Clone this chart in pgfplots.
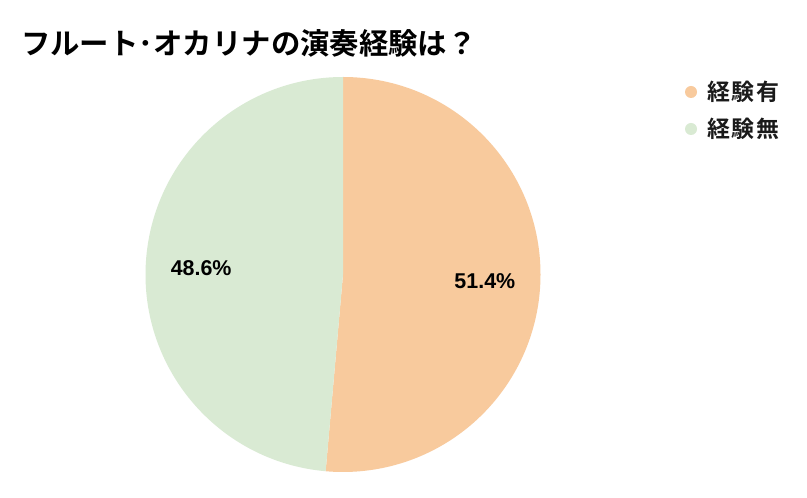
\documentclass[border=0pt]{standalone}
\usepackage{pgfplots}
\usepackage{pgfplotstable}
\pgfplotsset{compat=1.18}
\usetikzlibrary{calc}
\usepackage{fontspec}
\setmainfont{Liberation Sans}
\newfontfamily\jpfont{Noto Sans CJK JP}[BoldFont={* Bold}]
\newfontfamily\jplegend{Noto Sans CJK JP}[BoldFont={* Bold}, LetterSpace=8]

\definecolor{sliceA}{HTML}{F8CA9D}
\definecolor{sliceB}{HTML}{D9EAD3}
\definecolor{inkdark}{HTML}{1A1A1A}

% share of respondents (percent)
\pgfplotstableread{
label share
A 51.4
B 48.6
}\piedata

\begin{document}
\begin{tikzpicture}
\pgfplotstablegetelem{0}{share}\of\piedata \let\shareA\pgfplotsretval
\pgfplotstablegetelem{1}{share}\of\piedata \let\shareB\pgfplotsretval
\pgfmathsetmacro{\endA}{90-3.6*\shareA}
\pgfmathsetmacro{\endB}{\endA-3.6*\shareB}
\pgfmathsetmacro{\midA}{(90+\endA)/2}
\pgfmathsetmacro{\midB}{(\endA+\endB)/2}
\begin{axis}[
  scale only axis, width=807bp, height=498bp,
  xmin=0, xmax=807, ymin=0, ymax=498,
  hide axis, clip=false,
]
\fill[white] (axis cs:0,0) rectangle (axis cs:807,498);
% pie centre (343,223.5), radius 197.5
\fill[sliceA] (axis cs:343,223.5) -- ++(90:197.5bp) arc[start angle=90, end angle=\endA, radius=197.5bp] -- cycle;
\fill[sliceB] (axis cs:343,223.5) -- ++(\endA:197.5bp) arc[start angle=\endA, end angle=\endB, radius=197.5bp] -- cycle;
\node[font=\fontsize{21.5}{24}\selectfont\bfseries, text=black] at ($(axis cs:343,223.5)+(\midA:142bp)$) {\shareA\%};
\node[font=\fontsize{21.5}{24}\selectfont\bfseries, text=black] at ($(axis cs:343,223.5)+(\midB:142bp)$) {\shareB\%};
% title
\node[anchor=west, inner sep=0pt, font=\jpfont\bfseries\fontsize{29.5}{33}\selectfont, text=black] at (axis cs:21,455) {フルート･オカリナの演奏経験は？};
% legend
\fill[sliceA] (axis cs:691,406) circle[radius=6bp];
\fill[sliceB] (axis cs:691,369) circle[radius=6bp];
\node[anchor=west, inner sep=0pt, font=\jplegend\bfseries\fontsize{23}{26}\selectfont, text=inkdark] at (axis cs:707,406) {経験有};
\node[anchor=west, inner sep=0pt, font=\jplegend\bfseries\fontsize{23}{26}\selectfont, text=inkdark] at (axis cs:707,369) {経験無};
\end{axis}
\end{tikzpicture}
\end{document}
